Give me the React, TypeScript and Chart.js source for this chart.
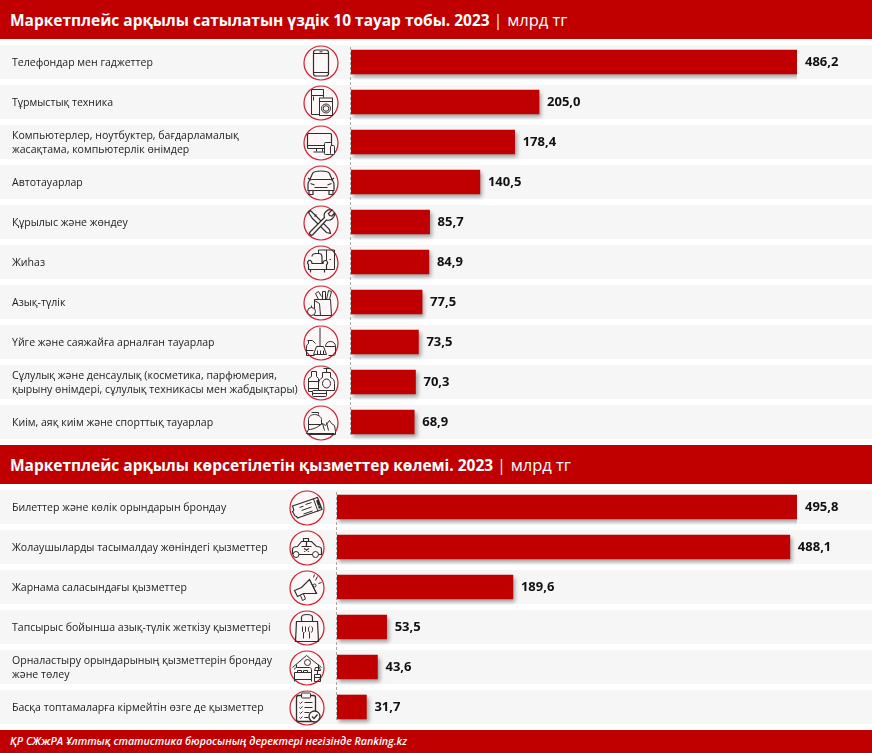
import React, { useEffect, useRef } from "react";
import { Chart, registerables } from "chart.js";

Chart.register(...registerables);

const goodsCategories: (string | string[])[] = [
  "Телефондар мен гаджеттер",
  "Тұрмыстық техника",
  ["Компьютерлер, ноутбуктер, бағдарламалық", "жасақтама, компьютерлік өнімдер"],
  "Автотауарлар",
  "Құрылыс және жөндеу",
  "Жиһаз",
  "Азық-түлік",
  "Үйге және саяжайға арналған тауарлар",
  ["Сұлулық және денсаулық (косметика, парфюмерия,", "қырыну өнімдері, сұлулық техникасы мен жабдықтары)"],
  "Киім, аяқ киім және спорттық тауарлар",
];
const goodsValues = [486.2, 205.0, 178.4, 140.5, 85.7, 84.9, 77.5, 73.5, 70.3, 68.9];

const serviceCategories: (string | string[])[] = [
  "Билеттер және көлік орындарын брондау",
  "Жолаушыларды тасымалдау жөніндегі қызметтер",
  "Жарнама саласындағы қызметтер",
  "Тапсырыс бойынша азық-түлік жеткізу қызметтері",
  ["Орналастыру орындарының қызметтерін брондау", "және төлеу"],
  "Басқа топтамаларға кірмейтін өзге де қызметтер",
];
const serviceValues = [495.8, 488.1, 189.6, 53.5, 43.6, 31.7];

const goodsTitle = "Маркетплейс арқылы сатылатын үздік 10 тауар тобы. 2023";
const servicesTitle = "Маркетплейс арқылы көрсетілетін қызметтер көлемі. 2023";
const unitLabel = "млрд тг";
const footerText = "ҚР СЖжРА Ұлттық статистика бюросының деректері негізінде Ranking.kz";

const RED = "#C00000";
const FONT = "'Open Sans', sans-serif";

const barDecor = {
  id: "barDecor",
  beforeDatasetsDraw(chart: any) {
    const { ctx, chartArea } = chart;
    ctx.save();
    ctx.strokeStyle = "#a6a6a6";
    ctx.lineWidth = 1;
    ctx.setLineDash([3, 2]);
    ctx.beginPath();
    ctx.moveTo(chartArea.left - 0.5, chartArea.top + 5);
    ctx.lineTo(chartArea.left - 0.5, chartArea.bottom - 5);
    ctx.stroke();
    ctx.restore();
  },
  beforeDatasetDraw(chart: any) {
    const { ctx } = chart;
    ctx.save();
    ctx.shadowColor = "rgba(0,0,0,0.35)";
    ctx.shadowBlur = 4;
    ctx.shadowOffsetX = 2;
    ctx.shadowOffsetY = 3;
  },
  afterDatasetDraw(chart: any) {
    chart.ctx.restore();
  },
  afterDatasetsDraw(chart: any) {
    const { ctx } = chart;
    const meta = chart.getDatasetMeta(0);
    const values = chart.data.datasets[0].data as number[];
    ctx.save();
    ctx.font = `700 13px ${FONT}`;
    ctx.fillStyle = "#111";
    ctx.textAlign = "left";
    ctx.textBaseline = "middle";
    meta.data.forEach((bar: any, i: number) => {
      ctx.fillText(values[i].toFixed(1).replace(".", ","), bar.x + 8, bar.y + 0.5);
    });
    ctx.restore();
  },
};

function makeChart(
  canvas: HTMLCanvasElement,
  labels: (string | string[])[],
  values: number[],
  axisX: number,
  endX: number,
) {
  return new Chart(canvas, {
    type: "bar",
    data: {
      labels,
      datasets: [{ data: values, backgroundColor: RED, barThickness: 24, borderWidth: 0 }],
    },
    plugins: [barDecor],
    options: {
      indexAxis: "y",
      animation: false,
      responsive: false,
      maintainAspectRatio: false,
      layout: { autoPadding: false, padding: { left: 12, right: 872 - endX, top: 0, bottom: 0 } },
      plugins: { legend: { display: false }, tooltip: { enabled: false } },
      scales: {
        x: { display: false, min: 0, max: Math.max(...values) },
        y: {
          afterFit: (s: any) => {
            s.width = axisX - 12;
            s.paddingTop = 0;
            s.paddingBottom = 0;
          },
          grid: { display: false, drawTicks: false },
          border: { display: false },
          ticks: {
            autoSkip: false,
            crossAlign: "far",
            padding: 0,
            labelOffset: 1,
            color: "#222",
            font: { family: FONT, size: 10.55, lineHeight: 1.38 },
          },
        },
      },
    } as any,
  });
}

const S = { fill: "none", stroke: "#2e2e2e", strokeWidth: 1 } as const;

const iconPaths: React.ReactNode[] = [
  // phone
  <g {...S}><rect x="10" y="4.5" width="15" height="26" rx="2.5" strokeWidth="1.2" /><path d="M10 8h15M10 27h15M16 6.3h3" /></g>,
  // appliances
  <g {...S}><path d="M20 12V4H8v25h8M8 10h12M10 11v4" /><rect x="16" y="12.5" width="13" height="17.5" /><path d="M16 16h13" /><circle cx="22.5" cy="23" r="4.5" /><circle cx="22.5" cy="23" r="2.8" /></g>,
  // computer
  <g {...S}><rect x="4" y="8" width="24" height="15" rx="1" strokeWidth="1.2" /><path d="M4 20h17M13 23v3M19 23v3M10 26.5h11" /><rect x="21" y="17" width="7" height="12" rx="1" fill="#fdf7f7" /><rect x="27" y="20" width="4" height="9" rx="1" fill="#fdf7f7" /></g>,
  // car
  <g {...S}><path d="M6 15l3-7c1-2 3-2.500 8.500-2.500S25 6 26 8l3 7M4.500 12.500L7 14.500M30.500 12.500L28 14.500M4.500 19c0-3 2-5 4-5h18c2 0 4 2 4 5v6h-26zM5.500 25v4h4v-4M25.500 25v4h4v-4M11 22h13M7 18l4 1.500M28 18l-4 1.500" strokeWidth="1.2" /></g>,
  // tools
  <g {...S}><path d="M5 7l2-2 5 5 14 14 1 4-4-1-14-14zM11 11l2-2" strokeWidth="1.2" /><path d="M7 26l14-14c-1-3 0-5 2-6.500s4-1.500 5.500-1L25 8l1 2 2.500.5 2.500-3c.5 2-.5 4-2 5.500s-4 2-6 1.500L9.500 29c-1 1-2 1-3 0s-.5-2 .5-3z" fill="#fdf7f7" strokeWidth="1.2" /></g>,
  // furniture
  <g {...S}><path d="M15 14V4.500h16V24H20M23 4.500V24M26 14h1.500" /><path d="M5 19c-2-2 0-5 2-4 1 .500 1.500 1.500 1.500 3h11c0-2 1-3 2.500-3 2 0 3 3 1 4v5H5zM7 24v3M21 24v3M8.500 11c0-2 2-3 4-3h3c2 0 3 2 3 4v6" fill="#fdf7f7" strokeWidth="1.2" /></g>,
  // groceries
  <g {...S}><path d="M11 14h16l1 16H11zM15 14l-3-6 3-2 3 5M19 14V6h3v8M23 14l2-9 3 1-2 8M11 15l5 3 1 12" /><circle cx="8" cy="26" r="4" fill="#fdf7f7" /><path d="M8 22v-2" /></g>,
  // mop and bucket
  <g {...S}><path d="M16.500 2v19M13 21h7l3 8H10zM14 25v4M17 25v4M20 25v4" /><path d="M4 15h5l3 3M5 15v3c-2 1-2 3-2 5v7h8M3 25h7" /><path d="M22 21h10v7c0 2-2 2-3 2h-4M22 21c0-3 2-5 5-5s5 2 5 5" /></g>,
  // cosmetics
  <g {...S}><path d="M23 3v4M20 3h7M19 7h8v5c3 1 4 3 4 6v7H15v-7c0-3 2-5 4-6z" /><ellipse cx="23" cy="18" rx="4" ry="4.500" /><path d="M8 6h5v5l2 2v13H5V13l3-2zM5 16h10M5 23h10" /><rect x="9" y="25" width="14" height="6" rx="1" fill="#fdf7f7" /><path d="M9 28h14" /></g>,
  // sport shoes
  <g {...S}><path d="M5 14c0-3 3-5 6-5s7 2 7 5v11H5zM8 7h7v2M5 19h13" /><path d="M3 28l2-4c3 0 6-1 8-2l6-4 3 2 4-5 2 3 3 2 1 6v3H5zM3 28h28M19 18l2 7M23 17l2 8" fill="#fdf7f7" /></g>,
  // ticket
  <g {...S}><path d="M3 15.500L28 7l4.500 12L8 27.500c-.500-1.500-1.500-2-2.500-2L3 21c1-.500 1.500-1.500 1-2.500z" strokeWidth="1.200" /><path d="M24 8.500l4.500 12.500M10 17l4-1.300M16 14l6-2M12 20l10-3.500M14 23.500l9-3" /><path d="M26.500 10l2.500-.800 2 5.500-2.500.800zM28.500 16l2.500-.800.800 2.200-2.500.800z" fill="#2e2e2e" stroke="none" /></g>,
  // taxi
  <g {...S}><path d="M3 24v-5c0-2 2-3 5-3l4-5h10l5 5c3 0 5 1 5 3v5h-3M9 24h14M14 11V8h5v3M12 16h10M17 11v5M14.500 18l5 3M19.500 18l-5 3" strokeWidth="1.2" /><circle cx="6.500" cy="24" r="3" /><circle cx="26" cy="24" r="3" /></g>,
  // megaphone
  <g {...S}><path d="M5 20l3 6 6-3 13 0-7-14-8 8z" fill="#fdf7f7" strokeWidth="1.200" /><path d="M20 9l7 14M11 25l2 5 3-1.500-2-5M26 10l2-4M29 13l3-1M24 7l1-3" /><circle cx="25" cy="15" r="1.500" /></g>,
  // delivery bag
  <g {...S}><path d="M7 11h21l1 20H6zM12 11V7c0-2 2-3 5.500-3S23 5 23 7v4" strokeWidth="1.200" /><path d="M13 16v5l1 1v6M16 16v5l-1 1M20 16c-1.500 1-1.500 4 0 6v6M22 16c1.500 1 1.500 4 0 6" /></g>,
  // house and bed
  <g {...S}><path d="M3 17L17 5l15 12M7 14v3M29 14v6" /><circle cx="18" cy="12" r="3" /><path d="M5 22h17v7H5zM5 29v2M22 29v2M5 19c0-1 1-2 2-2h13c1 0 2 1 2 2v3M8 22v-2h4v2M14 22v-2h4v2M25 24h6v7h-6zM28 24v-4M26 17h4l1 3h-6zM25 27h6" /></g>,
  // clipboard
  <g {...S}><rect x="7" y="5" width="19" height="26" rx="2" strokeWidth="1.300" /><rect x="12" y="2.500" width="9" height="5" rx="1" fill="#fdf7f7" /><path d="M10 12l1 1 2-2M15 12h8M10 17l1 1 2-2M15 17h8M10 22l1 1 2-2M15 22h5M10 27l1 1 2-2M15 27h4" /><circle cx="25" cy="26" r="5.500" fill="#fdf7f7" strokeWidth="1.300" /><path d="M22.500 26l2 2 3.500-4" strokeWidth="1.300" /></g>,
];

function Icon({ x, y, index }: { x: number; y: number; index: number }) {
  return (
    <svg
      width="36"
      height="36"
      viewBox="-0.5 -0.5 36 36"
      style={{ position: "absolute", left: x, top: y, display: "block" }}
    >
      <circle cx="17.5" cy="17.5" r="17" fill="#fdf7f7" stroke="#cf1f2e" strokeWidth="1.2" />
      {iconPaths[index]}
    </svg>
  );
}

function Header({ top, title }: { top: number; title: string }) {
  return (
    <div
      style={{
        position: "absolute",
        left: 0,
        top,
        width: 872,
        height: 39,
        background: RED,
        color: "#fff",
        fontFamily: FONT,
        fontSize: 15.47,
        lineHeight: "39px",
        paddingLeft: 10,
        boxSizing: "border-box",
        whiteSpace: "nowrap",
      }}
    >
      <b>{title}</b>
      <span style={{ margin: "0 5px 0 4px" }}>|</span>
      <span style={{ fontSize: 16.5 }}>{unitLabel}</span>
    </div>
  );
}

export default function App() {
  const a = useRef<HTMLCanvasElement>(null);
  const b = useRef<HTMLCanvasElement>(null);

  useEffect(() => {
    const c1 = makeChart(a.current!, goodsCategories, goodsValues, 351, 797);
    const c2 = makeChart(b.current!, serviceCategories, serviceValues, 337, 797);
    return () => {
      c1.destroy();
      c2.destroy();
    };
  }, []);

  return (
    <div style={{ position: "fixed", left: 0, top: 0, width: 872, height: 753, background: "#fff", overflow: "hidden" }}>
      <Header top={0} title={goodsTitle} />
      <Header top={445} title={servicesTitle} />
      {goodsValues.map((_, i) => (
        <div key={i} style={{ position: "absolute", left: 0, top: 45 + i * 40, width: 872, height: 34, background: "#f6f6f6" }} />
      ))}
      {serviceValues.map((_, i) => (
        <div key={i} style={{ position: "absolute", left: 0, top: 490 + i * 40, width: 872, height: 34, background: "#f6f6f6" }} />
      ))}
      {goodsValues.map((_, i) => (
        <Icon key={i} x={303} y={45 + i * 40} index={i} />
      ))}
      {serviceValues.map((_, i) => (
        <Icon key={i} x={289} y={490 + i * 40} index={10 + i} />
      ))}
      <canvas ref={a} width={872} height={400} style={{ position: "absolute", left: 0, top: 42, width: 872, height: 400 }} />
      <canvas ref={b} width={872} height={240} style={{ position: "absolute", left: 0, top: 487, width: 872, height: 240 }} />
      <div
        style={{
          position: "absolute",
          left: 0,
          top: 730,
          width: 872,
          height: 23,
          background: RED,
          color: "#fff",
          fontFamily: FONT,
          fontStyle: "italic",
          fontWeight: 600,
          fontSize: 10.65,
          lineHeight: "23px",
          paddingLeft: 10,
          boxSizing: "border-box",
          whiteSpace: "nowrap",
        }}
      >
        {footerText}
      </div>
    </div>
  );
}
